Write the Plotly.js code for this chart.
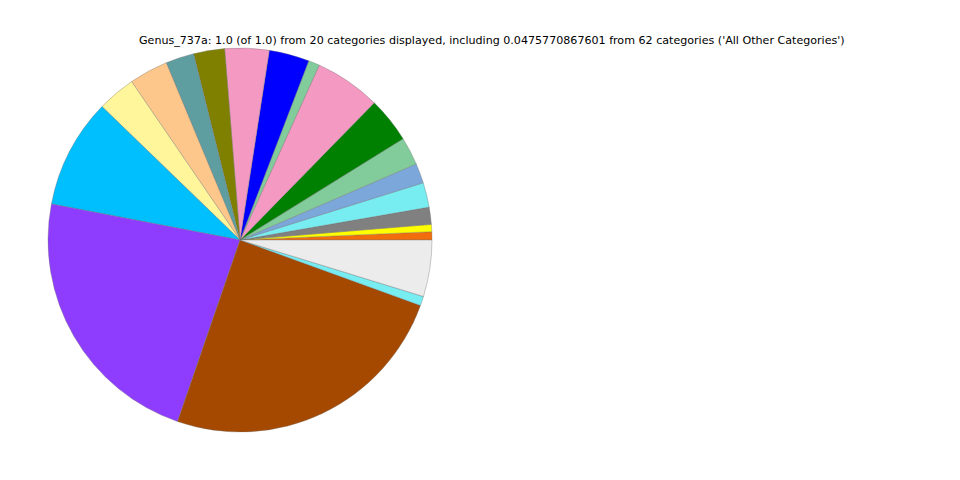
<!DOCTYPE html>
<html>
<head>
<meta charset="utf-8">
<script src="https://cdn.plot.ly/plotly-3.0.1.min.js"></script>
<style>html,body{margin:0;padding:0;background:#fff;}#chart{width:960px;height:480px;}</style>
</head>
<body>
<div id="chart"></div>
<script>
// Genus-level composition for sample 737a (fractions of 1.0)
const categories = [
  "Cat 1", "Cat 2", "Cat 3", "Cat 4", "Cat 5", "Cat 6", "Cat 7", "Cat 8", "Cat 9", "Cat 10",
  "Cat 11", "Cat 12", "Cat 13", "Cat 14", "Cat 15", "Cat 16", "Cat 17", "Cat 18", "Cat 19",
  "All Other Categories"
];
const fractions = [
  0.0069, 0.0061, 0.0144, 0.0208, 0.0167, 0.0236, 0.0383, 0.0556, 0.0094, 0.0339,
  0.0372, 0.0261, 0.0239, 0.0328, 0.0322, 0.0922, 0.2275, 0.2475, 0.0078,
  0.0475770867601
];
const sliceColors = [
  "#f26d0c", "#ffff00", "#808080", "#77ecf1", "#7ba7db", "#82cc9c", "#008000", "#f49ac2",
  "#82cc9c", "#0000ff", "#f49ac2", "#808000", "#5f9ea0", "#fdc78b", "#fff59a", "#00bfff",
  "#8e3dff", "#a64900", "#77ecf1", "#ececec"
];
const titleText = "Genus_737a: 1.0 (of 1.0) from 20 categories displayed, including 0.0475770867601 from 62 categories ('All Other Categories')";

// Counterclockwise slices are anchored by their far edge, so shift the
// start back by the first slice's sweep to begin exactly at 3 o'clock.
const total = fractions.reduce((a, b) => a + b, 0);
const startRotation = 90 - (fractions[0] / total) * 360;

Plotly.newPlot("chart", [{
  type: "pie",
  labels: categories,
  values: fractions,
  sort: false,
  direction: "counterclockwise",
  rotation: startRotation,
  textinfo: "none",
  hoverinfo: "label+value",
  marker: { colors: sliceColors, line: { color: "rgba(110,110,110,0.7)", width: 0.5 } },
  domain: { x: [0.05, 0.45], y: [0.1, 0.9] },
  showlegend: false
}], {
  width: 960,
  height: 480,
  margin: { l: 0, r: 0, t: 0, b: 0 },
  paper_bgcolor: "#ffffff",
  showlegend: false,
  annotations: [{
    text: titleText,
    xref: "paper", yref: "paper",
    x: 492 / 960, y: 1 - 40 / 480,
    xanchor: "center", yanchor: "middle",
    showarrow: false,
    font: { family: "DejaVu Sans", size: 11.1, color: "#000000" }
  }]
}, { displayModeBar: false, staticPlot: true });
</script>
</body>
</html>
